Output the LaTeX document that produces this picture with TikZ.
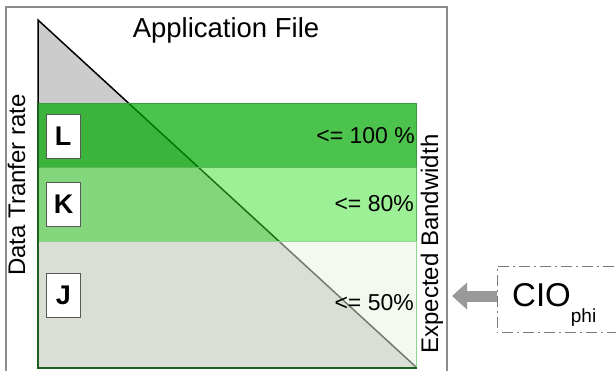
\documentclass[tikz,border=0pt]{standalone}
\usepackage{fontspec}
\setmainfont{Liberation Sans}
\usetikzlibrary{arrows.meta}
\definecolor{framegray}{HTML}{8C8C8C}
\definecolor{trigray}{HTML}{CCCCCC}
\definecolor{bandLfill}{RGB}{0,170,0}
\definecolor{bandKfill}{RGB}{61,225,45}
\definecolor{bandJfill}{RGB}{231,243,221}
\definecolor{bandLline}{HTML}{3A9E3A}
\definecolor{bandKline}{HTML}{55B955}
\definecolor{bandJline}{HTML}{8FD88F}
\definecolor{edgegreen}{HTML}{1E5E1E}
\definecolor{arrowgray}{HTML}{999999}
\definecolor{dashgray}{HTML}{7A7A7A}
\tikzset{
  band/.style={anchor=north west, minimum width=378pt, inner sep=0pt, line width=0.8pt},
  bandL/.style={band, fill=bandLfill, fill opacity=0.7, draw=bandLline},
  bandK/.style={band, fill=bandKfill, fill opacity=0.5, draw=bandKline},
  bandJ/.style={band, fill=bandJfill, fill opacity=0.5, draw=bandJline},
  letterbox/.style={draw=black!65, fill=white, line width=0.8pt, minimum width=34pt,
    minimum height=44pt, inner sep=0pt, font=\fontsize{27}{27}\selectfont\bfseries},
  pct/.style={anchor=east, inner sep=0pt, font=\fontsize{23}{23}\selectfont},
  axislabel/.style={rotate=90, anchor=base, inner sep=0pt, font=\fontsize{24}{24}\selectfont},
  dashdotline/.style={dash pattern=on 11pt off 4pt on 2pt off 4pt},
}
\begin{document}
\begin{tikzpicture}[x=1pt, y=-1pt]
  \useasboundingbox (0,0) rectangle (616,370);
  \clip (0,0) rectangle (616,370);

  % outer frame, open at the bottom
  \draw[framegray, line width=1.3pt] (6,372) -- (6,7) -- (447,7) -- (447,372);

  % file size triangle
  \coordinate (apex) at (38,20);
  \coordinate (base left) at (38,367);
  \coordinate (base right) at (416,367);
  \fill[trigray] (apex) -- (base left) -- (base right) -- cycle;
  \draw[black, line width=1.5pt] (base left) -- (apex) -- (base right);

  % bandwidth bands, laid translucently over the triangle
  \node[bandL, minimum height=64pt] (bandL) at (38,103) {};
  \node[bandK, minimum height=74pt] (bandK) at (38,167) {};
  \node[bandJ, minimum height=126pt] (bandJ) at (38,241) {};

  % left and bottom edge of the band stack
  \draw[edgegreen, line width=1.6pt] (bandL.north west) -- (bandJ.south west) -- (bandJ.south east);

  % band letters
  \node[letterbox] (boxL) at (63,136) {L};
  \node[letterbox] (boxK) at (63.5,204.5) {K};
  \node[letterbox] (boxJ) at (63.5,295) {J};

  % band limits
  \node[pct] (pctL) at (415,136) {<= 100 \%};
  \node[pct] (pctK) at (414,204) {<= 80\%};
  \node[pct] (pctJ) at (414,303) {<= 50\%};

  % titles and axis labels
  \node[anchor=base, inner sep=0pt, font=\fontsize{27.5}{27.5}\selectfont] (title) at (226,37) {Application File};
  \node[axislabel] (ylabel) at (25,185) {Data Tranfer rate};
  \node[axislabel] (rlabel) at (438,244) {Expected Bandwidth};

  % CIO box, running past the right edge, and its arrow
  \node[anchor=north west, minimum width=180pt, minimum height=66pt, inner sep=0pt] (cio) at (497,266) {};
  \draw[dashgray, dashdotline, line width=1pt]
    (cio.north east) -- (cio.north west) -- (cio.south west) -- (cio.south east);
  \node[anchor=base west, inner sep=0pt, font=\fontsize{33}{33}\selectfont] (ciotext) at (512,306)
    {CIO\raisebox{-16pt}{\fontsize{19}{19}\selectfont phi}};
  \coordinate (arrowtip) at (452,296);
  \draw[arrowgray, line width=11pt, -{Triangle[length=15pt, width=26pt]}]
    (cio.west |- arrowtip) -- (arrowtip);
\end{tikzpicture}
\end{document}
